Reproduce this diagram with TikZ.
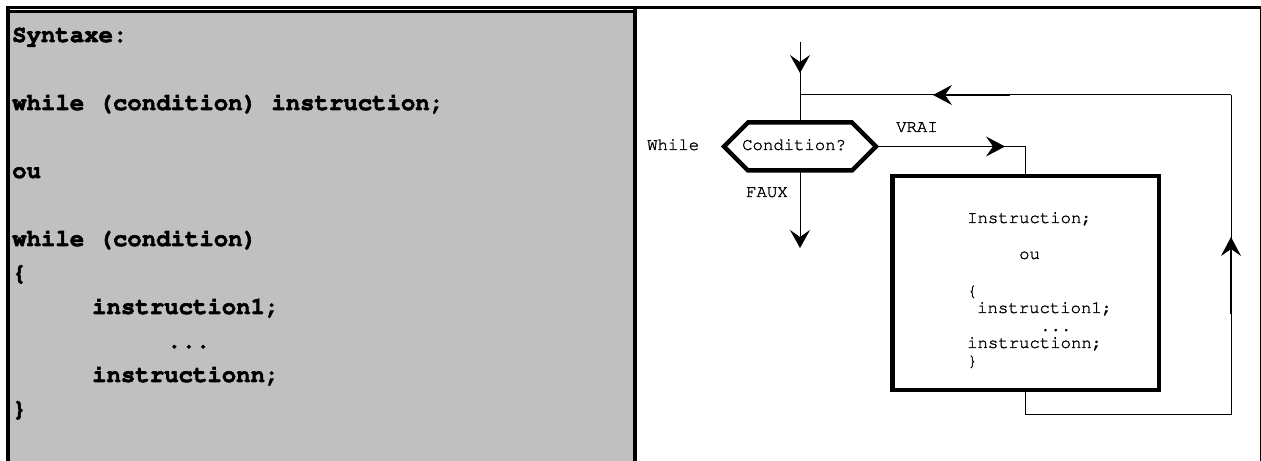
\documentclass[tikz,border=0pt]{standalone}
\usepackage[T1]{fontenc}
\usepackage{courier}
\usetikzlibrary{arrows.meta,decorations.markings}

\definecolor{panelgray}{RGB}{192,192,192}

% heavier glyphs: fill and stroke the outlines
\newcommand\strongtext[2]{\special{pdf:literal direct 2 Tr #1 w}#2\special{pdf:literal direct 0 Tr}}

\tikzset{
  flow/.style={line width=1bp},
  heavy/.style={line width=4.5bp, line join=miter},
  code/.style={anchor=base west, inner sep=0pt,
    font=\ttfamily\bfseries\fontsize{24bp}{28bp}\selectfont},
  small/.style={anchor=base west, inner sep=0pt,
    font=\ttfamily\fontsize{17.3bp}{20bp}\selectfont},
  arrowat/.style={postaction={decorate, decoration={markings,
    mark=at position #1 with {\arrow[line width=1bp]{Stealth[length=18bp,width=20bp,inset=7bp]}}}}},
  arrowtail/.style={postaction={decorate, decoration={markings,
    mark=at position #1 with {\draw[line width=1.8bp] (-77bp,0pt) -- (-10bp,0pt);
      \arrow[line width=1bp]{Stealth[length=19bp,width=20bp,inset=7bp]}}}}},
}

\begin{document}
\begin{tikzpicture}[x=1bp, y=-1bp]
  \useasboundingbox (0,0) rectangle (1261,461);

  % frame and syntax panel
  \fill[panelgray] (10,13) rectangle (633,461);
  \fill (6,6) rectangle (1261,9);
  \fill (6,10) rectangle (633,13);
  \fill (6,6) rectangle (10,461);
  \fill (633,9) rectangle (637,461);
  \fill (1259.5,6) rectangle (1260.5,461);

  % syntax text
  \node[code] (syn)   at (12,42)  {\strongtext{0.6}{Syntaxe:}};
  \node[code] (form1) at (12,110) {\strongtext{0.6}{while (condition) instruction;}};
  \node[code] (or)    at (12,178) {\strongtext{0.6}{ou}};
  \node[code] (form2) at (12,246) {\strongtext{0.6}{while (condition)}};
  \node[code] (open)  at (12,280) {\strongtext{0.6}{\{}};
  \node[code] (ins1)  at (92,314) {\strongtext{0.6}{instruction1;}};
  \node[code] (dots)  at (167,348) {\strongtext{0.6}{...}};
  \node[code] (insn)  at (92,382) {\strongtext{0.6}{instructionn;}};
  \node[code] (close) at (12,416) {\strongtext{0.6}{\}}};

  % flowchart points
  \coordinate (entry)  at (800,42);
  \coordinate (join)   at (800,95);
  \coordinate (hexT)   at (800,122.5);
  \coordinate (hexB)   at (800,170.5);
  \coordinate (hexR)   at (876,146.5);
  \coordinate (exit)   at (800,248);
  \coordinate (loopBR) at (1231,415);
  \coordinate (loopTR) at (1231,95);

  % decision hexagon
  \draw[heavy] (724,146.5) -- (748,122.5) -- (852,122.5) -- (hexR)
    -- (852,170.5) -- (748,170.5) -- cycle;
  \node[small] (cond)  at (742,150) {\strongtext{0.25}{Condition?}};
  \node[small] (while) at (647,150) {\strongtext{0.25}{While}};
  \node[small] (vrai)  at (896,132) {\strongtext{0.25}{VRAI}};
  \node[small] (faux)  at (746,197) {\strongtext{0.25}{FAUX}};

  % loop body
  \node[heavy, draw, minimum width=266.5bp, minimum height=214bp]
    (body) at (1025.75,283) {};
  \node[small] (b1) at (967,223)  {\strongtext{0.25}{Instruction;}};
  \node[small] (b2) at (1019,259) {\strongtext{0.25}{ou}};
  \node[small] (b3) at (967,296)  {\strongtext{0.25}{\{}};
  \node[small] (b4) at (977,313)  {\strongtext{0.25}{instruction1;}};
  \node[small] (b5) at (1040,331) {\strongtext{0.25}{...}};
  \node[small] (b6) at (967,348)  {\strongtext{0.25}{instructionn;}};
  \node[small] (b7) at (967,366)  {\strongtext{0.25}{\}}};

  % connectors
  \draw[flow, arrowat=31bp] (entry) -- (hexT);
  \draw[flow, -{Stealth[length=18bp,width=20bp,inset=7bp]}] (hexB) -- (exit);
  \draw[flow, arrowtail=129bp] (hexR) -| (body.north);
  \draw[flow] (body.south) |- (loopBR);
  \draw[flow, arrowtail=178bp] (loopBR) -- (loopTR);
  \draw[flow, arrowtail=298bp] (loopTR) -- (join);
\end{tikzpicture}
\end{document}
